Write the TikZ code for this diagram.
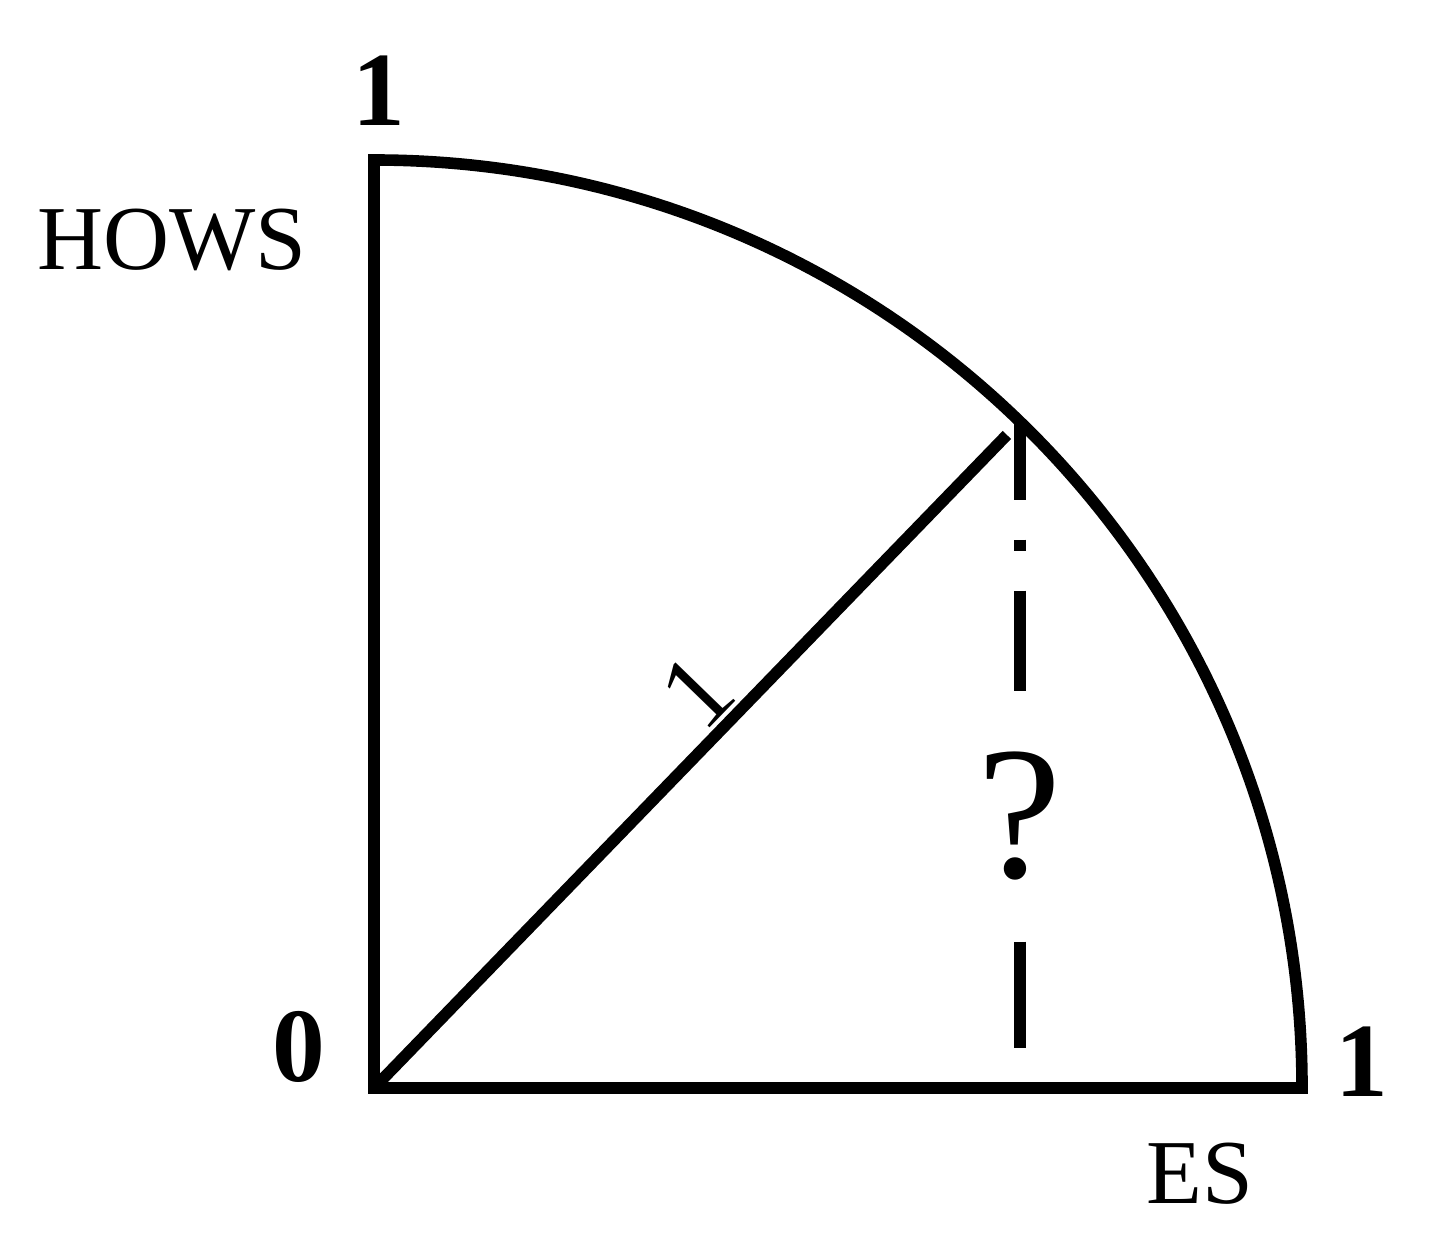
\documentclass[tikz,border=0pt]{standalone}
\usepackage{fontspec}
\setmainfont{Liberation Serif}
\usetikzlibrary{calc}

\tikzset{
	edge line/.style={line width=3.3pt},
	num/.style={font=\fontsize{30}{36}\selectfont\bfseries, inner sep=0pt},
	axname/.style={font=\fontsize{26}{31}\selectfont, inner sep=0pt},
	qmark/.style={font=\fontsize{54}{64}\selectfont, inner sep=0pt},
	dashdotline/.style={line width=3.3pt, dash pattern=on 0.78cm off 0.4cm on 0.11cm off 0.4cm on 1cm off 2.51cm on 1.06cm off 1cm}
}

\begin{document}
\begin{tikzpicture}
\useasboundingbox (0,0) rectangle (14.36,12.44);
\coordinate (O) at (3.74,1.56);
\coordinate (T) at ($(O)+(0,9.28)$);
\coordinate (R) at ($(O)+(9.28,0)$);
\coordinate (P) at ($(O)+(45.9:9.28)$);
\coordinate (D) at ($(O)!0.98!(P)$);
\coordinate (F) at ($(P |- O)+(0,0.4)$);

% quarter circle
\draw[edge line] (O) -- (R) arc[start angle=0, end angle=90, radius=9.28] -- cycle;

% radius and height
\draw[edge line] (O) -- node[pos=0.56, above, sloped, font=\fontsize{30}{36}\selectfont, inner sep=1pt] (one) {1} (D);
\draw[dashdotline] (P) -- node[pos=0.63, qmark] (q) {?} (F);

% labels
\node[num] (ytop) at (3.79,11.53) {1};
\node[axname] (hows) at (1.72,10.04) {HOWS};
\node[num] (zero) at (2.99,1.97) {0};
\node[num] (xright) at (13.62,1.82) {1};
\node[axname] (es) at (12.00,0.70) {ES};
\end{tikzpicture}
\end{document}
